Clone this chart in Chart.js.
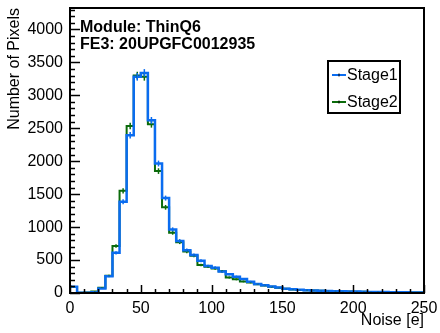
<!DOCTYPE html>
<html>
<head>
<meta charset="utf-8">
<script src="https://cdn.jsdelivr.net/npm/chart.js@4.4.0/dist/chart.umd.min.js"></script>
<style>
  body { margin: 0; background: #fff; }
  #wrap { width: 440px; height: 333px; }
</style>
</head>
<body>
<div id="wrap"><canvas id="myChart" width="440" height="333"></canvas></div>
<script>
// low edge of each 5 e noise bin
const binLow = [0, 5, 10, 15, 20, 25, 30, 35, 40, 45, 50, 55, 60, 65, 70, 75, 80, 85, 90, 95,
  100, 105, 110, 115, 120, 125, 130, 135, 140, 145, 150, 155, 160, 165, 170, 175, 180, 185, 190, 195,
  200, 205, 210, 215, 220, 225, 230, 235, 240, 245];
const binWidth = 5;

const stage1 = [95, 3, 5, 12, 70, 255, 610, 1385, 2395, 3280, 3340, 2620, 1965, 1440, 965, 790, 650, 575, 490, 410,
  385, 325, 285, 248, 212, 172, 138, 118, 98, 82, 66, 57, 49, 43, 38, 34, 31, 28, 25, 23,
  21, 19, 17, 15, 14, 12, 11, 10, 9, 7];
const stage2 = [90, 3, 8, 22, 80, 262, 712, 1550, 2535, 3300, 3280, 2560, 1850, 1300, 915, 770, 628, 565, 425, 398,
  372, 330, 235, 207, 175, 160, 133, 115, 95, 80, 64, 55, 47, 42, 37, 33, 30, 27, 24, 22,
  20, 18, 16, 15, 13, 12, 11, 9, 8, 7];

const xTicks = [0, 50, 100, 150, 200, 250];
const yTicks = [0, 500, 1000, 1500, 2000, 2500, 3000, 3500, 4000];
const xMax = 250;
const yMax = 4325;

const labelText = ['Module: ThinQ6', 'FE3: 20UPGFC0012935'];
const FONT = '"Liberation Sans", Arial, sans-serif';

Chart.defaults.font.family = FONT;
Chart.defaults.font.size = 16;
Chart.defaults.color = '#000';

// step outline: one point per low edge, plus the closing edge
const toSteps = (vals) => {
  const pts = binLow.map((x, i) => ({ x: x, y: vals[i] }));
  pts.push({ x: binLow[binLow.length - 1] + binWidth, y: vals[vals.length - 1] });
  return pts;
};

const keepTicks = (list) => (scale) => {
  scale.ticks = list.map(v => ({ value: v }));
};

// ROOT-like frame, inward ticks, error bars, titles and legend
const rootStyle = {
  id: 'rootStyle',
  afterDatasetsDraw(chart) {
    const ctx = chart.ctx;
    const xs = chart.scales.x, ys = chart.scales.y;
    const area = chart.chartArea;
    ctx.save();
    ctx.beginPath();
    ctx.rect(area.left, area.top, area.right - area.left, area.bottom - area.top);
    ctx.clip();
    for (let d = chart.data.datasets.length - 1; d >= 0; d--) {
      const ds = chart.data.datasets[d];
      ctx.strokeStyle = ds.borderColor;
      ctx.lineWidth = 1.5;
      ds.values.forEach((v, i) => {
        const err = Math.sqrt(v);
        const px = xs.getPixelForValue(binLow[i] + binWidth / 2);
        ctx.beginPath();
        ctx.moveTo(px, ys.getPixelForValue(v - err));
        ctx.lineTo(px, ys.getPixelForValue(v + err));
        ctx.stroke();
      });
    }
    ctx.restore();
  },
  afterDraw(chart) {
    const ctx = chart.ctx;
    const xs = chart.scales.x, ys = chart.scales.y;
    const a = chart.chartArea;
    ctx.save();
    ctx.strokeStyle = '#000';
    ctx.lineWidth = 2;
    ctx.strokeRect(a.left, a.top, a.right - a.left, a.bottom - a.top);

    // y ticks, minor every 100
    ctx.lineWidth = 1.5;
    for (let v = 0; v <= yMax; v += 100) {
      const py = Math.round(ys.getPixelForValue(v)) + 0.5;
      const len = v % 500 === 0 ? 10 : 5;
      ctx.beginPath();
      ctx.moveTo(a.left, py);
      ctx.lineTo(a.left + len, py);
      ctx.stroke();
    }
    // x ticks, minor every 10
    for (let v = 0; v <= xMax; v += 10) {
      const px = Math.round(xs.getPixelForValue(v)) + 0.5;
      const len = v % 50 === 0 ? 8 : 4;
      ctx.beginPath();
      ctx.moveTo(px, a.bottom);
      ctx.lineTo(px, a.bottom - len);
      ctx.stroke();
    }

    ctx.fillStyle = '#000';
    ctx.font = '16px ' + FONT;
    ctx.textAlign = 'right';
    ctx.textBaseline = 'middle';
    ctx.fillText('Noise [e]', a.right, 321);

    ctx.save();
    ctx.translate(15, a.top);
    ctx.rotate(-Math.PI / 2);
    ctx.textAlign = 'right';
    ctx.fillText('Number of Pixels', 0, 0);
    ctx.restore();

    ctx.font = 'bold 16px ' + FONT;
    ctx.textAlign = 'left';
    ctx.fillText(labelText[0], 80, 28);
    ctx.fillText(labelText[1], 80, 45);

    // legend box
    ctx.lineWidth = 2;
    ctx.strokeRect(328, 61, 72, 52);
    ctx.font = '16px ' + FONT;
    chart.data.datasets.forEach((ds, i) => {
      const y = 75 + i * 27;
      ctx.strokeStyle = ds.borderColor;
      ctx.lineWidth = 2;
      ctx.beginPath();
      ctx.moveTo(332, y);
      ctx.lineTo(346, y);
      ctx.stroke();
      ctx.lineWidth = 1;
      ctx.strokeStyle = '#000';
      ctx.beginPath();
      ctx.moveTo(339, y - 1.5);
      ctx.lineTo(339, y + 1.5);
      ctx.stroke();
      ctx.fillStyle = '#000';
      ctx.fillText(ds.label, 347, y + 1);
    });
    ctx.restore();
  }
};

new Chart(document.getElementById('myChart').getContext('2d'), {
  type: 'line',
  data: {
    datasets: [
      {
        label: 'Stage1',
        data: toSteps(stage1),
        values: stage1,
        borderColor: '#0a6cf0',
        borderWidth: 2.5,
        stepped: 'before',
        pointRadius: 0,
        fill: false,
      },
      {
        label: 'Stage2',
        data: toSteps(stage2),
        values: stage2,
        borderColor: '#0b6b0b',
        borderWidth: 2,
        stepped: 'before',
        pointRadius: 0,
        fill: false,
      },
    ],
  },
  options: {
    responsive: false,
    animation: false,
    layout: { padding: { left: 0, right: 16, top: 8, bottom: 0 } },
    plugins: { legend: { display: false }, tooltip: { enabled: false } },
    scales: {
      x: {
        type: 'linear',
        min: 0,
        max: xMax,
        afterBuildTicks: keepTicks(xTicks),
        afterFit: (s) => { s.height = 40; s.paddingLeft = 0; s.paddingRight = 0; },
        grid: { display: false, drawTicks: false },
        border: { display: false },
        ticks: { padding: 6, maxRotation: 0, autoSkip: false, callback: (v) => String(v) },
      },
      y: {
        type: 'linear',
        min: 0,
        max: yMax,
        afterBuildTicks: keepTicks(yTicks),
        afterFit: (s) => { s.width = 70; s.paddingTop = 0; s.paddingBottom = 0; },
        grid: { display: false, drawTicks: false },
        border: { display: false },
        ticks: { padding: 7, autoSkip: false, callback: (v) => String(v) },
      },
    },
  },
  plugins: [rootStyle],
});
</script>
</body>
</html>
